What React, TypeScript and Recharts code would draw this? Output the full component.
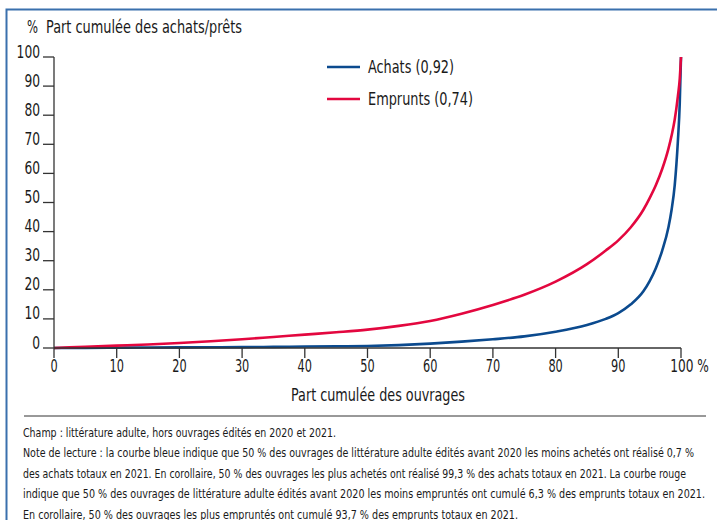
import { LineChart, Line, XAxis, YAxis, Legend } from 'recharts';

// cumulative share of titles (%)
const shares = [0, 5, 10, 15, 20, 25, 30, 35, 40, 45, 50, 55, 60, 65, 70, 75, 80, 85, 88, 90, 92, 94, 95, 96, 97, 98, 98.5, 99, 99.5, 99.8, 100];
// cumulative share of purchases (%)
const achats = [0, 0.05, 0.1, 0.15, 0.2, 0.25, 0.3, 0.4, 0.5, 0.6, 0.7, 1.0, 1.5, 2.2, 3.0, 4.0, 5.6, 7.9, 10, 12, 15, 19.5, 23, 27.5, 33.5, 41.5, 47.5, 56, 71, 84, 100];
// cumulative share of loans (%)
const emprunts = [0, 0.4, 0.8, 1.2, 1.7, 2.3, 3.0, 3.8, 4.6, 5.4, 6.3, 7.6, 9.3, 11.8, 14.8, 18.3, 22.8, 28.8, 33.5, 37, 41.5, 47.5, 51.5, 56, 61.5, 68.5, 73, 78.5, 86.5, 92.5, 100];

const xTicks = [0, 10, 20, 30, 40, 50, 60, 70, 80, 90, 100];
const yTicks = [0, 10, 20, 30, 40, 50, 60, 70, 80, 90, 100];

const seriesNames = ['Achats (0,92)', 'Emprunts (0,74)'];

const notes = [
  'Champ : littérature adulte, hors ouvrages édités en 2020 et 2021.',
  'Note de lecture : la courbe bleue indique que 50 % des ouvrages de littérature adulte édités avant 2020 les moins achetés ont réalisé 0,7 %',
  'des achats totaux en 2021. En corollaire, 50 % des ouvrages les plus achetés ont réalisé 99,3 % des achats totaux en 2021. La courbe rouge',
  'indique que 50 % des ouvrages de littérature adulte édités avant 2020 les moins empruntés ont cumulé 6,3 % des emprunts totaux en 2021.',
  'En corollaire, 50 % des ouvrages les plus empruntés ont cumulé 93,7 % des emprunts totaux en 2021.',
];
const noteWidths = [313, 671, 663, 682, 495];

const data = shares.map((s, i) => ({ share: s, achats: achats[i], emprunts: emprunts[i] }));

const FONT = "'Liberation Sans Narrow', 'Arial Narrow', 'DejaVu Sans Condensed', 'Liberation Sans', Arial, sans-serif";
const BLUE = '#0b4a8e';
const RED = '#e3073f';
const AXIS = '#333';
const TEXT = '#1a1a1a';
const DIGIT_W = 7.8;

function YTick({ x, y, payload }: any) {
  const label = String(payload.value);
  return (
    <text
      x={x - 1}
      y={y + 0.5}
      textAnchor="end"
      fontSize={17}
      fill={TEXT}
      fontFamily={FONT}
      textLength={label.length * DIGIT_W}
      lengthAdjust="spacingAndGlyphs"
    >
      {label}
    </text>
  );
}

function XTick({ x, y, payload }: any) {
  const label = String(payload.value);
  const w = label.length * 7.2;
  if (payload.value === 100) {
    // "100" stays centred on its tick, the % sign trails after it
    return (
      <text
        x={x - w / 2}
        y={y + 12}
        textAnchor="start"
        fontSize={17}
        fill={TEXT}
        fontFamily={FONT}
        textLength={w + 17}
        lengthAdjust="spacingAndGlyphs"
      >
        {label + ' %'}
      </text>
    );
  }
  return (
    <text
      x={x}
      y={y + 12}
      textAnchor="middle"
      fontSize={17}
      fill={TEXT}
      fontFamily={FONT}
      textLength={w}
      lengthAdjust="spacingAndGlyphs"
    >
      {label}
    </text>
  );
}

function LegendBox({ payload }: any) {
  const widths = [86, 105];
  return (
    <svg width={200} height={70} style={{ display: 'block' }}>
      {(payload || []).map((p: any, i: number) => (
        <g key={p.value}>
          <line x1={7} x2={40} y1={17 + i * 32} y2={17 + i * 32} stroke={p.color} strokeWidth={2.5} />
          <text
            x={48}
            y={23 + i * 32}
            fontSize={17}
            fill={TEXT}
            fontFamily={FONT}
            textLength={widths[i]}
            lengthAdjust="spacingAndGlyphs"
          >
            {p.value}
          </text>
        </g>
      ))}
    </svg>
  );
}

export default function App() {
  return (
    <div style={{ position: 'absolute', left: 0, top: 0, width: 717, height: 520, overflow: 'hidden', background: '#fff' }}>
      <LineChart width={717} height={410} data={data} margin={{ top: 57, right: 36, left: 10, bottom: 32 }}>
        <XAxis
          dataKey="share"
          type="number"
          domain={[0, 100]}
          ticks={xTicks}
          tickSize={10}
          tick={<XTick />}
          stroke={AXIS}
          strokeWidth={1.3}
          height={30}
          interval={0}
        />
        <YAxis
          type="number"
          domain={[0, 100]}
          ticks={yTicks}
          tickSize={11}
          tick={<YTick />}
          stroke={AXIS}
          strokeWidth={1.3}
          width={44}
          interval={0}
        />
        <Legend
          layout="vertical"
          align="center"
          verticalAlign="middle"
          wrapperStyle={{ left: 320, top: 50, width: 200 }}
          content={<LegendBox />}
        />
        <Line
          dataKey="achats"
          name={seriesNames[0]}
          type="monotone"
          stroke={BLUE}
          strokeWidth={2.6}
          dot={false}
          isAnimationActive={false}
        />
        <Line
          dataKey="emprunts"
          name={seriesNames[1]}
          type="monotone"
          stroke={RED}
          strokeWidth={2.6}
          dot={false}
          isAnimationActive={false}
        />
      </LineChart>
      <svg width={717} height={520} style={{ position: 'absolute', left: 0, top: 0, pointerEvents: 'none' }}>
        <path d="M 717 9.5 H 6.5 V 520" fill="none" stroke="#3a70ad" strokeWidth={2} />
        <text x={27} y={33} fontSize={17} fill={TEXT} fontFamily={FONT} textLength={11} lengthAdjust="spacingAndGlyphs">%</text>
        <text x={46} y={33} fontSize={17} fill={TEXT} fontFamily={FONT} textLength={196} lengthAdjust="spacingAndGlyphs">
          Part cumulée des achats/prêts
        </text>
        <text x={291} y={401} fontSize={17} fill={TEXT} fontFamily={FONT} textLength={174} lengthAdjust="spacingAndGlyphs">
          Part cumulée des ouvrages
        </text>
        <line x1={24} x2={706} y1={416} y2={416} stroke={AXIS} strokeWidth={1} />
        {notes.map((line, i) => (
          <text
            key={i}
            x={23}
            y={437 + i * 20.4}
            fontSize={13}
            fill={TEXT}
            fontFamily={FONT}
            textLength={noteWidths[i]}
            lengthAdjust="spacingAndGlyphs"
          >
            {line}
          </text>
        ))}
      </svg>
    </div>
  );
}
